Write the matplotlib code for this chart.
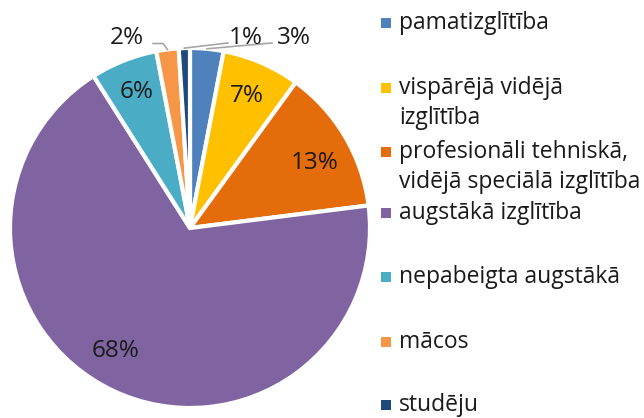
import numpy as np
import matplotlib
matplotlib.use("Agg")
import matplotlib.pyplot as plt
from matplotlib.patches import Rectangle

plt.rcParams['font.family'] = ['Open Sans', 'DejaVu Sans']

categories = ["pamatizglītība", "vispārējā vidējā\nizglītība",
              "profesionāli tehniskā,\nvidējā speciālā izglītība",
              "augstākā izglītība", "nepabeigta augstākā", "mācos", "studēju"]
values = [3, 7, 13, 68, 6, 2, 1]
labels = ["3%", "7%", "13%", "68%", "6%", "2%", "1%"]
colors = ["#4F81BD", "#FFC000", "#E46C0A", "#8064A2", "#4BACC6", "#F79646", "#1F497D"]

W, H = 644, 418
fig = plt.figure(figsize=(W / 100, H / 100), dpi=100)
cx, cy, R = 190, 228, 180
ax = fig.add_axes([(cx - R) / W, (H - cy - R) / H, 2 * R / W, 2 * R / H])
wedges, _ = ax.pie(values, colors=colors, startangle=90, counterclock=False,
                   radius=1, wedgeprops=dict(edgecolor="white", linewidth=3))
ax.set_xlim(-1, 1)
ax.set_ylim(-1, 1)
ax.set_aspect("equal")
ax.axis("off")

fs = 16.5
pfs = 17.5
txtc = "#1a1a1a"
inside = {1: (0.80, 0), 2: (0.78, -3), 3: (0.80, -6), 4: (0.81, 0)}
for i, w in enumerate(wedges):
    if i in inside:
        r, dt = inside[i]
        mid = np.deg2rad((w.theta1 + w.theta2) / 2 + dt)
        ax.text(r * np.cos(mid), r * np.sin(mid), labels[i], ha="center", va="center",
                fontsize=pfs, color=txtc)

# outside labels with leader lines
outside = {0: ((0.575, 1.056), [(0.456, 1.028)]),
           6: ((0.31, 1.056), [(0.211, 1.028)]),
           5: ((-0.35, 1.056), [(-0.15, 1.025), (-0.205, 1.025)])}
for i, (pos, pts) in outside.items():
    w = wedges[i]
    mid = np.deg2rad((w.theta1 + w.theta2) / 2)
    xs = [np.cos(mid)] + [p[0] for p in pts]
    ys = [np.sin(mid)] + [p[1] for p in pts]
    ax.plot(xs, ys, color="#A6A6A6", lw=1.2, clip_on=False)
    ax.text(pos[0], pos[1], labels[i], ha="center", va="center", fontsize=pfs,
            color=txtc, clip_on=False)

# legend
marker_y = [23, 88, 152, 213, 277, 342, 405]
for y, c, lab in zip(marker_y, colors, categories):
    fig.patches.append(Rectangle((381 / W, (H - y - 5) / H), 10 / W, 10 / H,
                                 transform=fig.transFigure, facecolor=c, edgecolor="none"))
    for k, ln in enumerate(lab.split("\n")):
        fig.text(399 / W, (H - y - 30 * k) / H, ln, ha="left", va="center",
                 fontsize=fs, color=txtc)

fig.savefig("out.png", dpi=100)
